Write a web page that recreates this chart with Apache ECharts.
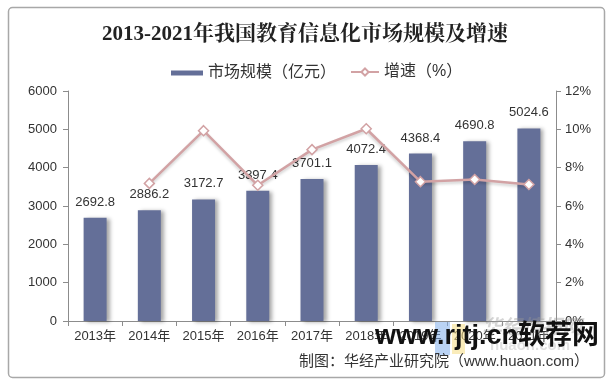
<!DOCTYPE html>
<html><head><meta charset="utf-8">
<script src="https://cdn.jsdelivr.net/npm/echarts@6/dist/echarts.min.js"></script>
<style>html,body{margin:0;padding:0;background:#fff}#c{width:610px;height:386px}</style>
</head><body><div id="c"></div>
<script>
const categories = ['2013年','2014年','2015年','2016年','2017年','2018年','2019年','2020年','2021年'];
const marketSize = [2692.8, 2886.2, 3172.7, 3397.4, 3701.1, 4072.4, 4368.4, 4690.8, 5024.6];
const growthRate = [null, 7.18, 9.93, 7.08, 8.94, 10.03, 7.27, 7.38, 7.12];
const leftTicks = {min: 0, max: 6000, interval: 1000};
const rightTicks = {min: 0, max: 12, interval: 2};
const titleText = '2013-2021年我国教育信息化市场规模及增速';
const sourceText = '制图：华经产业研究院（www.huaon.com）';

const chart = echarts.init(document.getElementById('c'));
const sans = '"Liberation Sans", Arial, "Noto Sans CJK SC", sans-serif';
const axisGray = '#8c8c8c';
chart.setOption({
  animation: false,
  title: {
    text: titleText, left: 'center', top: 19,
    textStyle: {fontFamily: '"Liberation Serif", "Noto Serif CJK SC", "Noto Sans CJK SC", serif', fontWeight: 'bold', fontSize: 21, color: '#222'}
  },
  legend: [
    {data: [{name: '市场规模（亿元）', icon: 'rect'}], left: 166, top: 60, itemWidth: 32, itemHeight: 5,
     textStyle: {fontFamily: sans, fontSize: 16, color: '#333'}},
    {data: [{name: '增速（%）'}], left: 345, top: 59, itemWidth: 28, itemHeight: 9, itemGap: 2,
     textStyle: {fontFamily: sans, fontSize: 16, color: '#333'}}
  ],
  grid: {left: 68, right: 54, top: 91, bottom: 65},
  xAxis: {
    type: 'category', data: categories, boundaryGap: true,
    axisLine: {lineStyle: {color: axisGray}},
    axisTick: {show: true, alignWithLabel: false, interval: 0, length: 5, lineStyle: {color: axisGray}},
    axisLabel: {interval: 0, fontFamily: sans, fontSize: 13, color: '#333', margin: 9}
  },
  yAxis: [
    {type: 'value', min: leftTicks.min, max: leftTicks.max, interval: leftTicks.interval,
     axisLine: {show: true, lineStyle: {color: axisGray}},
     axisTick: {show: true, length: 5, lineStyle: {color: axisGray}},
     splitLine: {show: false},
     axisLabel: {fontFamily: sans, fontSize: 13, color: '#333', margin: 11, formatter: v => String(v)}},
    {type: 'value', min: rightTicks.min, max: rightTicks.max, interval: rightTicks.interval, position: 'right',
     axisLine: {show: true, lineStyle: {color: axisGray}},
     axisTick: {show: true, length: 5, lineStyle: {color: axisGray}},
     splitLine: {show: false},
     axisLabel: {fontFamily: sans, fontSize: 13, color: '#333', margin: 9, formatter: '{value}%'}}
  ],
  series: [
    {name: '市场规模（亿元）', type: 'bar', data: marketSize, barWidth: 23, yAxisIndex: 0,
     itemStyle: {color: '#646f98', shadowColor: 'rgba(0,0,0,0.35)', shadowBlur: 4, shadowOffsetX: 3, shadowOffsetY: 1},
     label: {show: true, position: 'top', distance: 9, fontFamily: sans, fontSize: 13, color: '#333'}},
    {name: '增速（%）', type: 'line', data: growthRate, yAxisIndex: 1,
     symbol: 'diamond', symbolSize: 10, showSymbol: true,
     lineStyle: {color: '#d2a2a4', width: 2.5, shadowColor: 'rgba(0,0,0,0.2)', shadowBlur: 3, shadowOffsetY: 2},
     itemStyle: {color: '#fff', borderColor: '#d2a2a4', borderWidth: 1.5}}
  ],
  graphic: [
    {type: 'rect', shape: {x: 8.5, y: 7.5, width: 596, height: 370, r: 4}, z: -10,
     style: {fill: 'none', stroke: '#a8a8a8', lineWidth: 1.5}},
    {type: 'text', right: 21, top: 354, z: 10,
     style: {text: sourceText, font: '15px "Liberation Sans", Arial, "Noto Sans CJK SC", sans-serif', fill: '#333'}},
    {type: 'rect', shape: {x: 435, y: 322, width: 15, height: 33}, z: 5, style: {fill: 'rgba(130,175,235,0.55)'}},
    {type: 'rect', shape: {x: 452, y: 324, width: 13, height: 30}, z: 5, style: {fill: 'rgba(245,220,130,0.55)'}},
    {type: 'text', left: 482, top: 316, z: 6,
     style: {text: '华经情报网', font: 'italic bold 20px "Noto Sans CJK SC", sans-serif', fill: 'rgba(150,150,150,0.4)'}},
    {type: 'text', left: 490, top: 338, z: 6,
     style: {text: 'huaon.com', font: 'bold 15px "Liberation Sans", Arial, sans-serif', fill: 'rgba(170,170,170,0.35)'}},
    {type: 'text', left: 375, top: 323, z: 20,
     style: {text: 'www.rjtj.cn软荐网', font: 'bold 27px "Liberation Sans", Arial, "Noto Sans CJK SC", sans-serif', fill: '#111'}}
  ]
});
</script></body></html>
